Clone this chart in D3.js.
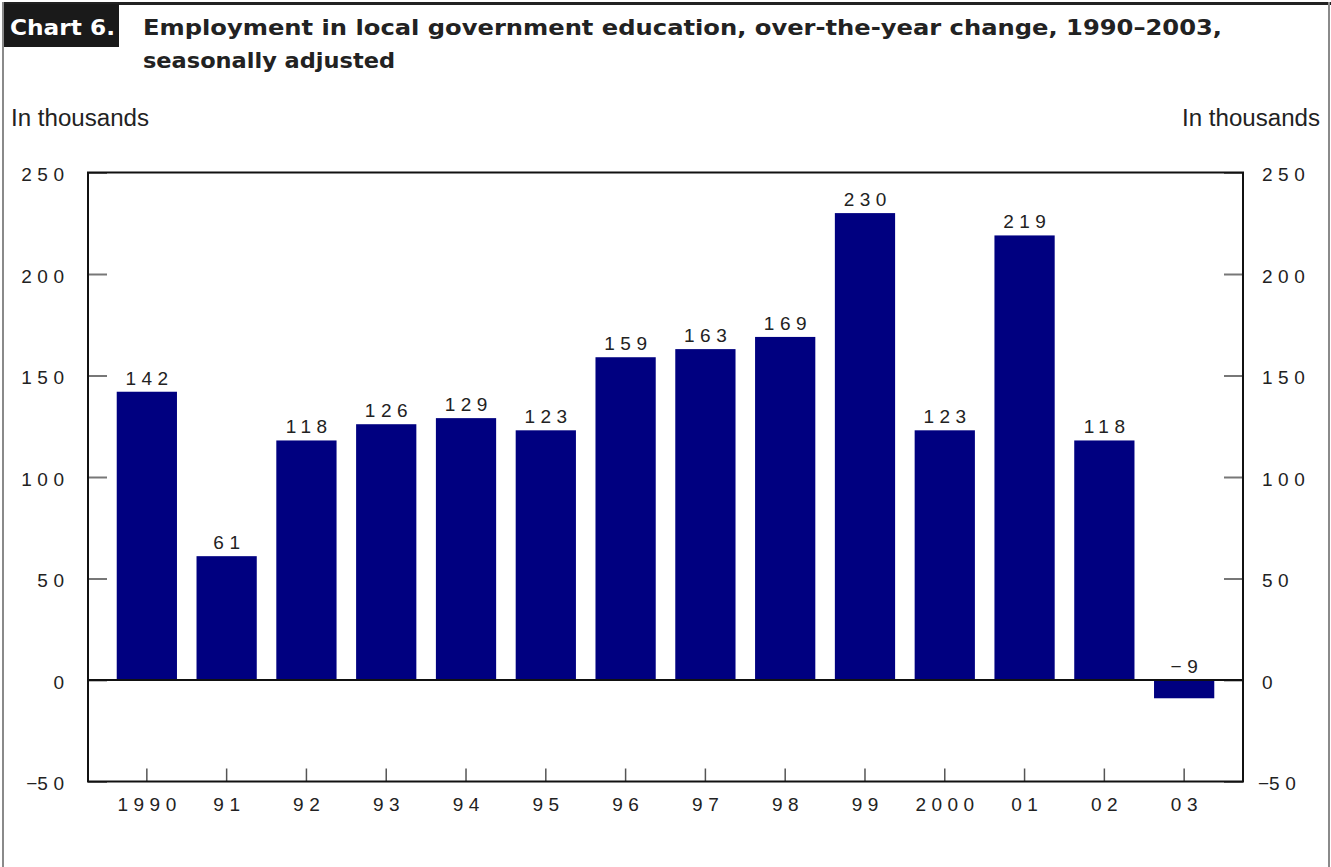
<!DOCTYPE html>
<html><head><meta charset="utf-8">
<script src="https://cdn.jsdelivr.net/npm/d3@7"></script>
<style>
html,body{margin:0;padding:0;background:#fff;}
svg{display:block;}
</style></head>
<body>
<script>
const categories = ["1990","91","92","93","94","95","96","97","98","99","2000","01","02","03"];
const values = [142, 61, 118, 126, 129, 123, 159, 163, 169, 230, 123, 219, 118, -9];
const yTicks = [-50, 0, 50, 100, 150, 200, 250];
const titleLine1 = "Employment in local government education, over-the-year change, 1990\u20132003,";
const titleLine2 = "seasonally adjusted";
const chartLabel = "Chart 6.";
const unitLabel = "In thousands";

(function () {
const W = 1331, H = 867;
const svg = d3.select("body").append("svg").attr("width", W).attr("height", H);
const numFont = "'Liberation Sans', Arial, sans-serif";
const titleFont = "'DejaVu Sans', sans-serif";
const LS = 5.5;
const FS = 19;
const fmt = v => (v < 0 ? "\u2212" : "") + Math.abs(v);

// frame
svg.append("rect").attr("x", 3).attr("y", 2).attr("width", W - 3).attr("height", 3).attr("fill", "#222");
svg.append("rect").attr("x", 2).attr("y", 2).attr("width", 2).attr("height", H).attr("fill", "#8a8a8a");
svg.append("rect").attr("x", 1328).attr("y", 2).attr("width", 2).attr("height", H).attr("fill", "#8a8a8a");

// chart label box
svg.append("rect").attr("x", 4).attr("y", 4).attr("width", 115).attr("height", 43).attr("fill", "#1a1a1a");
svg.append("text").attr("x", 10).attr("y", 35).attr("fill", "#fff")
  .attr("font-family", titleFont).attr("font-weight", "bold").attr("font-size", 21)
  .attr("textLength", 105).attr("lengthAdjust", "spacingAndGlyphs").text(chartLabel);

svg.append("text").attr("x", 143).attr("y", 35).attr("fill", "#222")
  .attr("font-family", titleFont).attr("font-weight", "bold").attr("font-size", 21)
  .attr("textLength", 1079).attr("lengthAdjust", "spacingAndGlyphs").text(titleLine1);
svg.append("text").attr("x", 143).attr("y", 68).attr("fill", "#222")
  .attr("font-family", titleFont).attr("font-weight", "bold").attr("font-size", 21)
  .attr("textLength", 252).attr("lengthAdjust", "spacingAndGlyphs").text(titleLine2);

svg.append("text").attr("x", 11).attr("y", 126).attr("fill", "#222")
  .attr("font-family", numFont).attr("font-size", 23)
  .attr("textLength", 138).attr("lengthAdjust", "spacingAndGlyphs").text(unitLabel);
svg.append("text").attr("x", 1182).attr("y", 126).attr("fill", "#222")
  .attr("font-family", numFont).attr("font-size", 23)
  .attr("textLength", 138).attr("lengthAdjust", "spacingAndGlyphs").text(unitLabel);

// scales
const pLeft = 88, pRight = 1243, pTop = 172.5, pBottom = 781.5;
const y = d3.scaleLinear().domain([-50, 250]).range([pBottom, pTop]);
const x = d3.scaleBand().domain(categories).range([pLeft, pRight]).paddingInner(0.245).paddingOuter(0.36);

const g = svg.append("g");

// bars
g.selectAll("rect.bar").data(values).enter().append("rect")
  .attr("class", "bar")
  .attr("x", (d, i) => x(categories[i]))
  .attr("width", x.bandwidth())
  .attr("y", d => y(Math.max(0, d)))
  .attr("height", d => Math.abs(y(d) - y(0)))
  .attr("fill", "#000080");

// bar labels
g.selectAll("text.vl").data(values).enter().append("text")
  .attr("class", "vl")
  .attr("x", (d, i) => x(categories[i]) + x.bandwidth() / 2 + LS / 2)
  .attr("y", d => y(Math.max(0, d)) - 7)
  .attr("text-anchor", "middle")
  .attr("font-family", numFont).attr("font-size", FS).attr("letter-spacing", LS)
  .attr("fill", "#222")
  .text(d => fmt(d));

// tick label writer: minus sign set tight against digits
function tickText(sel) {
  sel.each(function (d) {
    const t = d3.select(this);
    t.text(null);
    if (d < 0) t.append("tspan").attr("letter-spacing", 0).text("\u2212");
    t.append("tspan").text(Math.abs(d));
  });
}

// left axis ticks (inward)
const axL = d3.axisLeft(y).tickValues(yTicks).tickSizeInner(-19).tickSizeOuter(0).tickFormat(fmt);
const gl = svg.append("g").attr("transform", `translate(${pLeft},0)`).call(axL);
gl.select(".domain").remove();
gl.selectAll(".tick line").attr("stroke", "#777").attr("stroke-width", 2);
gl.selectAll(".tick text").attr("x", -24 + LS).attr("dy", null).attr("y", 8)
  .attr("font-family", numFont).attr("font-size", FS).attr("letter-spacing", LS).attr("fill", "#222")
  .call(tickText);

const axR = d3.axisRight(y).tickValues(yTicks).tickSizeInner(-19).tickSizeOuter(0).tickFormat(fmt);
const gr = svg.append("g").attr("transform", `translate(${pRight},0)`).call(axR);
gr.select(".domain").remove();
gr.selectAll(".tick line").attr("stroke", "#777").attr("stroke-width", 2);
gr.selectAll(".tick text").attr("x", d => d < 0 ? 15 : 19).attr("dy", null).attr("y", 8)
  .attr("font-family", numFont).attr("font-size", FS).attr("letter-spacing", LS).attr("fill", "#222")
  .call(tickText);

// bottom axis ticks (inward, upward)
const axB = d3.axisBottom(x).tickSizeInner(-13).tickSizeOuter(0);
const gb = svg.append("g").attr("transform", `translate(0,${pBottom})`).call(axB);
gb.select(".domain").remove();
gb.selectAll(".tick line").attr("stroke", "#555").attr("stroke-width", 1.5);
gb.selectAll(".tick text").attr("y", 29).attr("dy", null).attr("dx", LS / 2)
  .attr("font-family", numFont).attr("font-size", FS).attr("letter-spacing", LS).attr("fill", "#222");

// plot frame and zero line
svg.append("rect").attr("x", pLeft).attr("y", pTop).attr("width", pRight - pLeft).attr("height", pBottom - pTop)
  .attr("fill", "none").attr("stroke", "#111").attr("stroke-width", 2);
svg.append("line").attr("x1", pLeft).attr("x2", pRight).attr("y1", y(0)).attr("y2", y(0))
  .attr("stroke", "#111").attr("stroke-width", 2);
})();
</script>
</body></html>
